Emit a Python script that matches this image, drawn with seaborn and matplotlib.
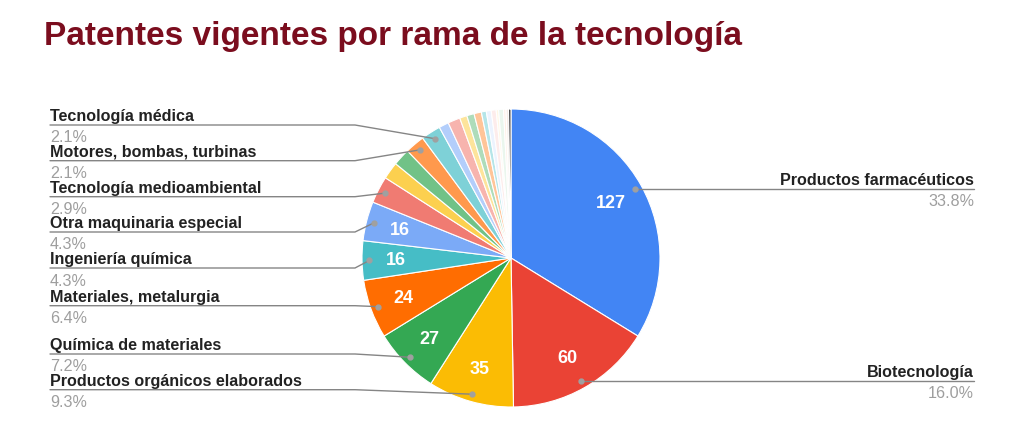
import matplotlib
matplotlib.use("Agg")
import matplotlib.pyplot as plt
import seaborn as sns
import numpy as np

# ---------------- data ----------------
categories = [
    "Productos farmacéuticos", "Biotecnología", "Productos orgánicos elaborados",
    "Química de materiales", "Materiales, metalurgia", "Ingeniería química",
    "Otra maquinaria especial", "Tecnología medioambiental", "Otra categoría 1",
    "Otra categoría 2", "Motores, bombas, turbinas", "Tecnología médica",
    "Otra categoría 3", "Otra categoría 4", "Otra categoría 5", "Otra categoría 6",
    "Otra categoría 7", "Otra categoría 8", "Otra categoría 9", "Otra categoría 10",
    "Otra categoría 11", "Otra categoría 12", "Otra categoría 13", "Otra categoría 14",
    "Otra categoría 15",
]
values = [127, 60, 35, 27, 24, 16, 16, 11, 7, 7, 8, 8,
          4, 5, 3, 3, 3, 2, 2, 2, 1, 2, 1, 1, 1]
colors = ["#4285F4", "#EA4335", "#FBBC04", "#34A853", "#FF6D01", "#46BDC6",
          "#7BAAF7", "#F07B72", "#FCD04F", "#71C287", "#FF994D", "#7ED1D7",
          "#B3CEFB", "#F7B4AE", "#FDE49B", "#AEDCBA", "#FFC599", "#B5E5E8",
          "#ECF3FE", "#FDECEB", "#FFF8E6", "#EAF6ED", "#FFF0E6", "#F6EDE6",
          "#3C3C3C"]
title = "Patentes vigentes por rama de la tecnología"
right_labels = ["Productos farmacéuticos", "Biotecnología"]
left_labels = ["Tecnología médica", "Motores, bombas, turbinas",
               "Tecnología medioambiental", "Otra maquinaria especial",
               "Ingeniería química", "Materiales, metalurgia",
               "Química de materiales", "Productos orgánicos elaborados"]

# ---------------- layout ----------------
W, H = 1024, 435
sns.set_theme(style="white")
plt.rcParams["font.family"] = ["Liberation Sans", "DejaVu Sans"]

fig = plt.figure(figsize=(W / 100, H / 100), dpi=100)
ax = fig.add_axes([0, 0, 1, 1])

def Y(py):
    return H - py

cx, cy, R = 511, 259, 149
total = sum(values)

def autopct(p):
    v = int(round(p * total / 100))
    return f"{v}" if v >= 16 else ""

wedges, _, autotexts = ax.pie(
    values, colors=colors, startangle=90, counterclock=False,
    center=(cx, Y(cy)), radius=R, autopct=autopct, pctdistance=0.77,
    wedgeprops=dict(edgecolor="white", linewidth=0.8),
    textprops=dict(color="white", fontsize=13, fontweight="bold"),
)
ax.set_xlim(0, W)
ax.set_ylim(0, H)
ax.set_aspect("auto")
ax.axis("off")

line_col = "#858585"
lab_col = "#222222"
pct_col = "#9E9E9E"
fs = 11.6

def dot_of(i):
    w = wedges[i]
    mid = np.deg2rad((w.theta1 + w.theta2) / 2)
    return cx + 0.95 * R * np.cos(mid), Y(cy) + 0.95 * R * np.sin(mid)

def pct_of(i):
    return f"{values[i] / total * 100:.1f}%"

# right side labels
for name in right_labels:
    i = categories.index(name)
    dx, dy = dot_of(i)
    ax.plot([dx, 974], [dy, dy], color=line_col, lw=1, zorder=3)
    ax.plot(dx, dy, "o", ms=3.5, color="#A0A0A0", zorder=4)
    ax.text(974, dy + 5, name, ha="right", va="baseline", fontsize=fs,
            fontweight="bold", color=lab_col)
    ax.text(974, dy - 4.5, pct_of(i), ha="right", va="top", fontsize=fs,
            color=pct_col)

# left side labels (line y positions in pixels)
left_line_y = [126, 161.7, 197.7, 233, 269, 306.7, 355, 390.7]
for name, ly in zip(left_labels, left_line_y):
    i = categories.index(name)
    dx, dy = dot_of(i)
    yy = Y(ly)
    ax.plot([50, 355, dx], [yy, yy, dy], color=line_col, lw=1, zorder=3)
    ax.plot(dx, dy, "o", ms=3.5, color="#A0A0A0", zorder=4)
    ax.text(50, yy + 5, name, ha="left", va="baseline", fontsize=fs,
            fontweight="bold", color=lab_col)
    ax.text(50, yy - 4.5, pct_of(i), ha="left", va="top", fontsize=fs,
            color=pct_col)

# title
fig.text(44 / W, 1 - 45 / H, title, ha="left", va="baseline",
         fontsize=24, fontweight="bold", color="#7B0D1E")

fig.savefig("out.png", dpi=100, facecolor="white")
